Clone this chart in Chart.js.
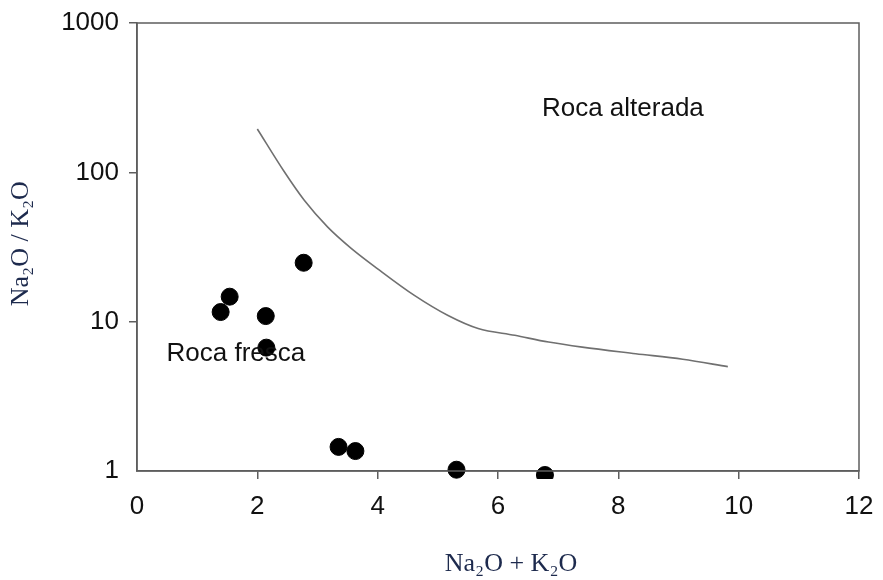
<!DOCTYPE html>
<html>
<head>
<meta charset="utf-8">
<script src="https://cdn.jsdelivr.net/npm/chart.js@4/dist/chart.umd.min.js"></script>
<style>
  html, body { margin: 0; padding: 0; background: #fff; }
  #wrap { width: 883px; height: 580px; }
</style>
</head>
<body>
<div id="wrap"><canvas id="myChart" width="883" height="580"></canvas></div>
<script>
// samples (Na2O + K2O, Na2O / K2O)
const sampleX = [1.39, 1.54, 2.14, 2.77, 2.15, 3.35, 3.63, 5.31, 6.78];
const sampleY = [11.6, 14.7, 10.9, 24.8, 6.7, 1.45, 1.36, 1.02, 0.94];

// boundary between fresh and altered rock
const curveX = [2.0, 2.44, 2.78, 3.17, 3.56, 4.0, 4.61, 5.17, 5.67, 6.28, 6.84, 7.4, 8.29, 9.07, 9.82];
const curveY = [195, 102, 65, 43, 31, 22.6, 15.0, 11.0, 9.0, 8.1, 7.3, 6.75, 6.1, 5.6, 5.0];

const yTicks = [1, 10, 100, 1000];
const xTicks = [0, 2, 4, 6, 8, 10, 12];

const zoneLabels = ['Roca alterada', 'Roca fresca'];
const zoneAt = [[6.73, 267], [0.49, 6.1]];

const axisColor = '#5e5e5e';
const tickFont = { family: '"Liberation Sans", Arial, sans-serif', size: 26 };
const titleFont = { family: '"Liberation Serif", "Times New Roman", serif', size: 26 };
const titleColor = '#1d2a4d';

// frame around the plot + zone text
const framePlugin = {
    id: 'frame',
    afterDatasetsDraw(chart) {
        const { ctx, chartArea, scales } = chart;
        ctx.save();
        ctx.strokeStyle = axisColor;
        ctx.lineWidth = 1.5;
        ctx.strokeRect(chartArea.left, chartArea.top, chartArea.right - chartArea.left, chartArea.bottom - chartArea.top);
        ctx.fillStyle = '#111';
        ctx.font = '26px "Liberation Sans", Arial, sans-serif';
        ctx.textBaseline = 'middle';
        zoneLabels.forEach((txt, i) => {
            ctx.fillText(txt, scales.x.getPixelForValue(zoneAt[i][0]), scales.y.getPixelForValue(zoneAt[i][1]));
        });
        ctx.restore();
    }
};

const ctx = document.getElementById('myChart').getContext('2d');
const chart = new Chart(ctx, {
    type: 'scatter',
    data: {
        datasets: [
            {
                label: 'muestras',
                data: sampleX.map((x, i) => ({ x: x, y: sampleY[i] })),
                backgroundColor: '#000',
                borderColor: '#000',
                pointRadius: 8.5,
                pointHoverRadius: 8.5,
                clip: { left: 10, top: 10, right: 10, bottom: 8 }
            },
            {
                label: 'limite',
                data: curveX.map((x, i) => ({ x: x, y: curveY[i] })),
                showLine: true,
                borderColor: '#707070',
                borderWidth: 1.6,
                pointRadius: 0,
                cubicInterpolationMode: 'monotone',
                fill: false
            }
        ]
    },
    options: {
        responsive: false,
        animation: false,
        layout: { padding: { top: 23, right: 24, left: 0, bottom: 0 } },
        plugins: {
            legend: { display: false },
            tooltip: { enabled: false }
        },
        scales: {
            x: {
                type: 'linear',
                min: 0,
                max: 12,
                afterBuildTicks: (scale) => { scale.ticks = xTicks.map(v => ({ value: v })); },
                afterFit: (scale) => {
                    scale.height = 109;
                    scale.paddingLeft = 0;
                    scale.paddingRight = 0;
                },
                ticks: { font: tickFont, color: '#111', padding: 12 },
                grid: {
                    drawOnChartArea: false,
                    tickLength: 8,
                    tickColor: (c) => c.index === 0 ? 'rgba(0,0,0,0)' : axisColor,
                    lineWidth: 1.5
                },
                border: { color: axisColor, width: 1.5 },
                title: {
                    display: true,
                    text: '    Na₂O + K₂O',
                    font: titleFont,
                    color: titleColor,
                    padding: { top: 0, bottom: 0 }
                }
            },
            y: {
                type: 'logarithmic',
                min: 1,
                max: 1000,
                afterBuildTicks: (scale) => { scale.ticks = yTicks.map(v => ({ value: v })); },
                afterFit: (scale) => {
                    scale.width = 137;
                    scale.paddingTop = 0;
                    scale.paddingBottom = 0;
                },
                ticks: {
                    font: tickFont,
                    color: '#111',
                    padding: 10,
                    callback: (v) => String(v)
                },
                grid: {
                    drawOnChartArea: false,
                    tickLength: 8,
                    tickColor: (c) => c.index === 0 ? 'rgba(0,0,0,0)' : axisColor,
                    lineWidth: 1.5
                },
                border: { color: axisColor, width: 1.5 },
                title: {
                    display: true,
                    text: ' Na₂O / K₂O',
                    font: titleFont,
                    color: titleColor,
                    padding: { top: 6, bottom: 0 }
                }
            }
        }
    },
    plugins: [framePlugin]
});
</script>
</body>
</html>
